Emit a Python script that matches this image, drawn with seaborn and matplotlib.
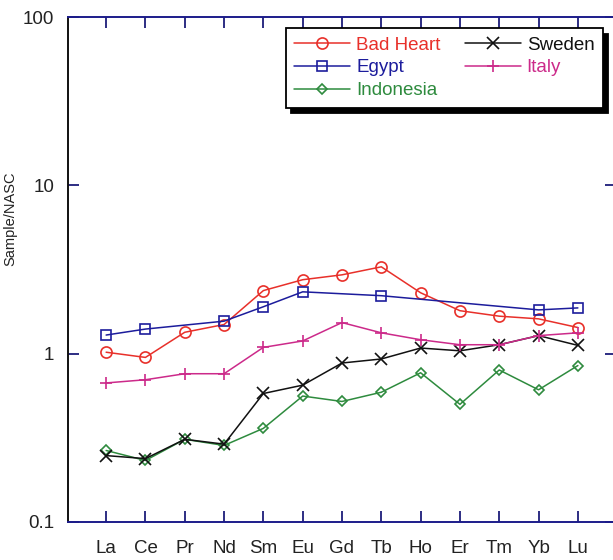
import matplotlib
matplotlib.use("Agg")
import matplotlib.pyplot as plt
import seaborn as sns
import pandas as pd
import numpy as np

elements = ["La", "Ce", "Pr", "Nd", "Sm", "Eu", "Gd", "Tb", "Ho", "Er", "Tm", "Yb", "Lu"]
bad_heart = [1.02, 0.95, 1.34, 1.49, 2.37, 2.75, 2.94, 3.28, 2.30, 1.80, 1.67, 1.61, 1.43]
egypt = [1.29, 1.40, None, 1.56, 1.90, 2.33, None, 2.21, None, None, None, 1.82, 1.87]
indonesia = [0.266, 0.232, 0.31, 0.285, 0.36, 0.56, 0.52, 0.59, 0.77, 0.50, 0.80, 0.61, 0.85]
sweden = [0.248, 0.238, 0.31, 0.29, 0.58, 0.65, 0.88, 0.93, 1.08, 1.04, 1.13, 1.28, 1.12]
italy = [0.67, 0.70, 0.76, 0.76, 1.09, 1.19, 1.53, 1.33, 1.21, 1.13, 1.13, 1.28, 1.33]

series_names = ["Bad Heart", "Egypt", "Indonesia", "Sweden", "Italy"]
series_values = [bad_heart, egypt, indonesia, sweden, italy]
colors = ["#e8302a", "#1c1c9c", "#2e8b3e", "#111111", "#cc2a8a"]
markers = ["o", "s", "D", "x", "+"]
msizes = [8, 7, 5.5, 8, 9]

sns.set_style("ticks")
plt.rcParams["font.family"] = ["Liberation Sans", "DejaVu Sans"]

fig = plt.figure(figsize=(6.13, 5.6), dpi=100)
ax = fig.add_axes([68 / 613, 1 - 522 / 560, 548 / 613, 505 / 560])

x_pos = np.arange(len(elements))
for name, vals, c, m, ms in zip(series_names, series_values, colors, markers, msizes):
    df = pd.DataFrame({"x": x_pos, "y": [np.nan if v is None else v for v in vals]}).dropna()
    sns.lineplot(data=df, x="x", y="y", ax=ax, color=c, marker=m, markersize=ms,
                 markerfacecolor="none", markeredgecolor=c, markeredgewidth=1.2,
                 linewidth=1.1, label=name, sort=True, estimator=None)

ax.set_yscale("log")
ax.set_ylim(0.1, 100)
ax.set_xlim(-0.97, len(elements) - 1 + 0.97)
ax.set_xticks(x_pos)
ax.set_xticklabels(elements)
ax.set_yticks([0.1, 1, 10, 100])
ax.set_yticklabels(["0.1", "1", "10", "100"])
ax.yaxis.set_minor_locator(matplotlib.ticker.NullLocator())
ax.tick_params(axis="both", which="major", direction="in", length=8, width=1.3,
               top=True, right=True, labelsize=13.5, colors="#1c1c7a", labelcolor="#222222")
ax.tick_params(axis="x", pad=13)
ax.tick_params(axis="y", pad=10)
ax.set_xlabel("")
ax.set_ylabel("Sample/NASC", fontsize=10.5, color="#222222")
ax.yaxis.set_label_coords(-0.093, 0.6)

for side in ["top", "bottom", "right"]:
    ax.spines[side].set_color("#1c1c8a")
    ax.spines[side].set_linewidth(1.4)
ax.spines["left"].set_color("#111111")
ax.spines["left"].set_linewidth(1.4)

leg = ax.legend(loc="upper right", bbox_to_anchor=(0.976, 0.978), borderaxespad=0, ncol=2,
                fontsize=13.5, frameon=True, fancybox=False, framealpha=1,
                edgecolor="black", handlelength=3.0, handletextpad=0.3,
                columnspacing=1.3, labelspacing=0.3, borderpad=0.45,
                shadow={"color": "black", "alpha": 1, "ox": 4, "oy": -4})
leg.get_frame().set_linewidth(1.3)
for text, c in zip(leg.get_texts(), colors):
    text.set_color(c)

fig.savefig("out.png", dpi=100, facecolor="white")
